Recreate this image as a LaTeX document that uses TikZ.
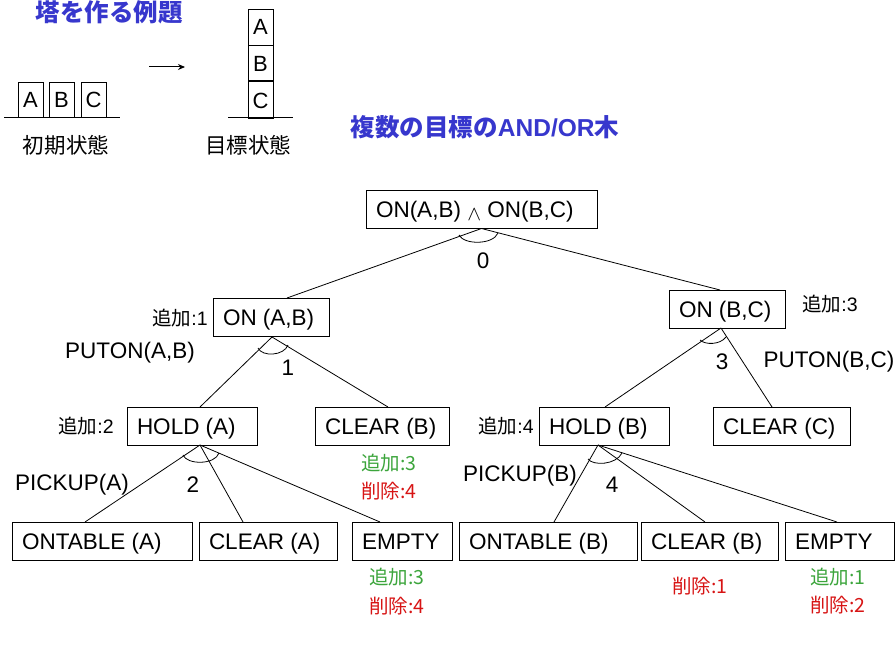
\documentclass[tikz,border=0pt]{standalone}
\usepackage{fontspec}
\setmainfont{Liberation Sans}
\newfontfamily\jp{Noto Sans CJK JP}
\newfontfamily\lsb{Liberation Sans}
\usetikzlibrary{arrows.meta}
\definecolor{ttl}{RGB}{55,55,205}
\definecolor{addg}{RGB}{60,165,60}
\definecolor{delr}{RGB}{215,20,20}
\newcommand\bxt[2]{\makebox[#1][l]{#2}}
\begin{document}
\begin{tikzpicture}[x=1pt,y=-1pt,
 box/.style={draw, line width=1pt, inner xsep=10pt, inner ysep=0pt, minimum height=38pt, text height=20pt, text depth=4pt, font=\fontsize{22.5}{27}\selectfont},
 lbl/.style={inner sep=0pt, font=\fontsize{22.5}{27}\selectfont},
 jlbl/.style={inner sep=0pt, font=\fontsize{19.5}{23}\selectfont},
 addl/.style={inner sep=0pt, text=addg, font=\jp\fontsize{19.5}{23}\selectfont},
 dell/.style={inner sep=0pt, text=delr, font=\jp\fontsize{19.5}{23}\selectfont},
 edge/.style={line width=0.8pt},
 blk/.style={draw, line width=0.9pt, minimum width=25pt, inner sep=0pt, text height=19pt, text depth=3pt, font=\fontsize{22}{26}\selectfont},
 ttlf/.style={inner sep=0pt, text=ttl, font=\jp\fontsize{24.5}{29}\selectfont\bfseries},
 jtxt/.style={inner sep=0pt, font=\jp\fontsize{21.5}{26}\selectfont}]
\useasboundingbox (0,0) rectangle (896,650);

% ---- titles
\node[ttlf] (t1) at (109,12) {塔を作る例題};
\node[ttlf] (t2) at (485,127) {複数の目標の{\lsb\bfseries AND/OR}木};

% ---- initial state
\node[blk, minimum height=35pt] (iA) at (30.5,99.5) {A};
\node[blk, minimum height=35pt] (iB) at (61.5,99.5) {B};
\node[blk, minimum height=35pt] (iC) at (93.5,99.5) {C};
\coordinate (g1l) at (4,117);
\coordinate (g1r) at (120,117);
\draw[line width=0.9pt] (g1l) -- (g1r);
\node[jtxt] (init) at (66,145) {初期状態};

% ---- arrow
\coordinate (a1) at (149,67);
\coordinate (a2) at (185,67);
\draw[line width=1pt, -{Stealth[length=7pt,width=6pt]}] (a1) -- (a2);

% ---- goal state
\node[blk, minimum height=36pt] (gA) at (260.5,27) {A};
\node[blk, minimum height=35pt, anchor=north] (gB) at (gA.south) {B};
\node[blk, minimum height=37pt, anchor=north] (gC) at (gB.south) {C};
\coordinate (g2l) at (228,117);
\coordinate (g2r) at (293,117);
\draw[line width=0.9pt] (g2l) -- (g2r);
\node[jtxt] (goal) at (248,145) {目標状態};

% ---- tree boxes
\node[box] (root) at (481.5,209) {\bxt{211pt}{ON(A,B) \raisebox{-3pt}{\fontsize{30}{30}\selectfont$\scriptstyle\wedge$} ON(B,C)}};
\node[box] (onab) at (271,317.5) {\bxt{96pt}{ON (A,B)}};
\node[box] (onbc) at (727,309) {\bxt{96pt}{ON (B,C)}};
\node[box] (holda) at (192,426) {\bxt{110pt}{HOLD (A)}};
\node[box] (clearb) at (382,426) {\bxt{114pt}{CLEAR (B)}};
\node[box] (holdb) at (604,426) {\bxt{110pt}{HOLD (B)}};
\node[box] (clearc) at (781.5,426) {\bxt{117pt}{CLEAR (C)}};
\node[box] (ontablea) at (102,541.5) {\bxt{160pt}{ONTABLE (A)}};
\node[box] (cleara) at (268,541.5) {\bxt{118pt}{CLEAR (A)}};
\node[box] (emptya) at (402,541.5) {\bxt{80pt}{EMPTY}};
\node[box] (ontableb) at (548,541.5) {\bxt{158pt}{ONTABLE (B)}};
\node[box] (clearb2) at (709.5,541.5) {\bxt{117pt}{CLEAR (B)}};
\node[box] (emptyb) at (839.5,541.5) {\bxt{89pt}{EMPTY}};

% ---- connector points
\coordinate (onabT) at (287,298);
\coordinate (onbcT) at (720,290);
\coordinate (onabB) at (272,337);
\coordinate (holdaT) at (200,407);
\coordinate (clearbT) at (388,407);
\coordinate (onbcB) at (721,328);
\coordinate (holdbT) at (605,407);
\coordinate (clearcT) at (772,407);
\coordinate (holdaB) at (200,445);
\coordinate (ontableaT) at (85,522);
\coordinate (clearaT) at (243,522);
\coordinate (emptyaT) at (380,522);
\coordinate (holdbB) at (598,445);
\coordinate (ontablebT) at (554,522);
\coordinate (clearb2T) at (705,522);
\coordinate (emptybT) at (837,522);

\draw[edge] (root.south) -- (onabT);
\draw[edge] (root.south) -- (onbcT);
\draw[edge] (onabB) -- (holdaT);
\draw[edge] (onabB) -- (clearbT);
\draw[edge] (onbcB) -- (holdbT);
\draw[edge] (onbcB) -- (clearcT);
\draw[edge] (holdaB) -- (ontableaT);
\draw[edge] (holdaB) -- (clearaT);
\draw[edge] (holdaB) -- (emptyaT);
\draw[edge] (holdbB) -- (ontablebT);
\draw[edge] (holdbB) -- (clearb2T);
\draw[edge] (holdbB) -- (emptybT);

% ---- AND arcs
\draw[edge] (459,235) .. controls (464,245) and (493,245) .. (498,233);
\draw[edge] (258,348) .. controls (262,357) and (284,356) .. (288,345);
\draw[edge] (700,340) .. controls (705,345) and (720,345) .. (726,337);
\draw[edge] (183,455) .. controls (187,465) and (215,465) .. (219,453);
\draw[edge] (588,459) .. controls (593,466) and (616,465) .. (622,453);

% ---- numbers
\node[lbl] (n0) at (483,261) {0};
\node[lbl] (n1) at (288,368) {1};
\node[lbl] (n2) at (193,485) {2};
\node[lbl] (n3) at (722,362) {3};
\node[lbl] (n4) at (612,485) {4};

% ---- operator labels
\node[lbl] (p1) at (130,353) {PUTON(A,B)};
\node[lbl] (p2) at (829,362) {PUTON(B,C)};
\node[lbl] (p3) at (72,485) {PICKUP(A)};
\node[lbl] (p4) at (520,476) {PICKUP(B)};

% ---- add labels
\node[jlbl] (ad1) at (180,318) {{\jp 追加}:1};
\node[jlbl] (ad3) at (830,304) {{\jp 追加}:3};
\node[jlbl] (ad2) at (86,426) {{\jp 追加}:2};
\node[jlbl] (ad4) at (506,426) {{\jp 追加}:4};

% ---- coloured labels
\node[addl] (c1) at (389,463) {追加:3};
\node[dell] (c2) at (389,491) {削除:4};
\node[addl] (c3) at (397,577) {追加:3};
\node[dell] (c4) at (397,606) {削除:4};
\node[dell] (c5) at (700,586) {削除:1};
\node[addl] (c6) at (838,577) {追加:1};
\node[dell] (c7) at (838,605) {削除:2};
\end{tikzpicture}
\end{document}
